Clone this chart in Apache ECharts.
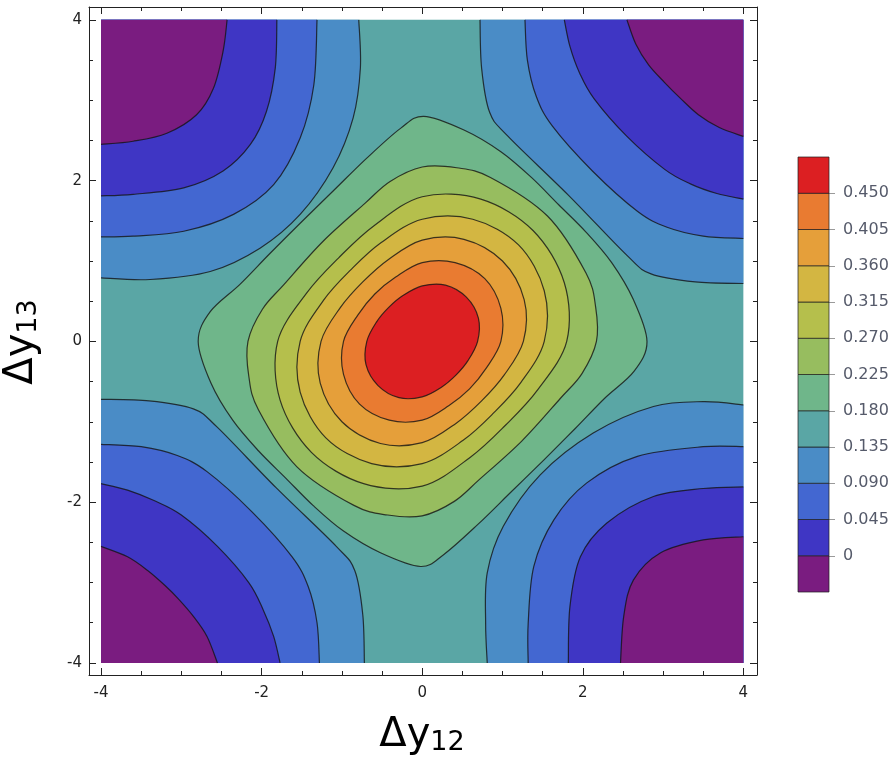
<!DOCTYPE html>
<html>
<head>
<meta charset="utf-8">
<script src="https://cdn.jsdelivr.net/npm/echarts@6/dist/echarts.min.js"></script>
<style>
  html, body { margin: 0; padding: 0; background: #ffffff; }
  #chart { width: 893px; height: 766px; }
</style>
</head>
<body>
<div id="chart"></div>
<script>
// Contour levels (band boundaries) and the fill colour of each band, lowest band first
const levels = [0, 0.045, 0.09, 0.135, 0.18, 0.225, 0.27, 0.315, 0.36, 0.405, 0.45];
const levelLabels = ['0', '0.045', '0.090', '0.135', '0.180', '0.225', '0.270', '0.315', '0.360', '0.405', '0.450'];
const bandColors = ['#7a1c80', '#3f36c4', '#4367d1', '#4a8cc6', '#5aa6a5', '#6fb68a',
                    '#97bd5f', '#b5bf4c', '#d3b642', '#e59f3a', '#e97b31', '#dc1f22'];

// Axis ticks
const majorTicks = [-4, -2, 0, 2, 4];
const minorTicks = [-3.5, -3, -2.5, -1.5, -1, -0.5, 0.5, 1, 1.5, 2.5, 3, 3.5];
const plotMin = -4, plotMax = 4;

// Corner contours, (Δy12, Δy13) points running from one plot edge to the other
// top-left corner
const tl135 = [[-0.79, 4], [-0.77, 3.40], [-0.86, 2.78], [-1.11, 2.16], [-1.52, 1.58], [-2.02, 1.16], [-2.64, 0.87], [-3.39, 0.77], [-4, 0.79]];
const tl090 = [[-1.31, 4], [-1.35, 3.19], [-1.52, 2.53], [-1.85, 1.95], [-2.35, 1.58], [-2.97, 1.37], [-3.60, 1.31], [-4, 1.30]];
const tl045 = [[-1.81, 4], [-1.83, 3.40], [-1.94, 2.86], [-2.14, 2.45], [-2.48, 2.12], [-2.97, 1.91], [-3.60, 1.83], [-4, 1.81]];
const tl000 = [[-2.43, 4], [-2.48, 3.61], [-2.60, 3.15], [-2.81, 2.82], [-3.18, 2.59], [-3.60, 2.49], [-4, 2.45]];
// bottom-right corner
const br135 = [[4, -0.79], [3.50, -0.75], [2.88, -0.81], [2.13, -1.14], [1.47, -1.66], [1.01, -2.30], [0.81, -2.88], [0.79, -3.51], [0.81, -4]];
const br090 = [[4, -1.31], [3.50, -1.31], [2.68, -1.43], [2.05, -1.76], [1.64, -2.22], [1.39, -2.80], [1.32, -3.51], [1.32, -4]];
const br045 = [[4, -1.81], [3.50, -1.83], [2.88, -1.93], [2.30, -2.26], [1.97, -2.68], [1.84, -3.30], [1.82, -4]];
const br000 = [[4, -2.43], [3.50, -2.47], [2.97, -2.63], [2.63, -2.97], [2.51, -3.42], [2.47, -4]];
// top-right corner
const tr135 = [[0.72, 4], [0.74, 3.40], [0.84, 2.85], [1.07, 2.55], [1.82, 1.82], [2.55, 1.07], [2.85, 0.84], [3.40, 0.74], [4, 0.72]];
const tr090 = [[1.28, 4], [1.31, 3.50], [1.42, 3.05], [1.62, 2.68], [2.12, 2.12], [2.68, 1.62], [3.05, 1.42], [3.50, 1.31], [4, 1.28]];
const tr045 = [[1.77, 4], [1.84, 3.67], [1.96, 3.34], [2.14, 3.02], [2.55, 2.55], [3.02, 2.14], [3.34, 1.96], [3.67, 1.84], [4, 1.77]];
const tr000 = [[2.55, 4], [2.66, 3.70], [2.82, 3.44], [3.02, 3.22], [3.22, 3.02], [3.44, 2.82], [3.70, 2.66], [4, 2.55]];
// bottom-left corner
const bl135 = [[-0.72, -4], [-0.74, -3.40], [-0.84, -2.85], [-1.07, -2.55], [-1.82, -1.82], [-2.55, -1.07], [-2.85, -0.84], [-3.40, -0.74], [-4, -0.72]];
const bl090 = [[-1.28, -4], [-1.31, -3.50], [-1.42, -3.05], [-1.62, -2.68], [-2.12, -2.12], [-2.68, -1.62], [-3.05, -1.42], [-3.50, -1.31], [-4, -1.28]];
const bl045 = [[-1.77, -4], [-1.85, -3.67], [-1.98, -3.34], [-2.16, -3.00], [-2.55, -2.55], [-3.00, -2.16], [-3.34, -1.98], [-3.67, -1.85], [-4, -1.77]];
const bl000 = [[-2.55, -4], [-2.68, -3.67], [-2.85, -3.42], [-3.04, -3.20], [-3.20, -3.04], [-3.42, -2.85], [-3.67, -2.68], [-4, -2.55]];

// Closed contours round the central peak
const c180 = [[2.80, 0], [2.63, 0.52], [2.36, 0.98], [2.04, 1.36], [1.70, 1.70], [1.36, 2.04], [0.98, 2.36], [0.52, 2.63],
              [0.02, 2.80], [-0.27, 2.65], [-0.69, 2.28], [-1.10, 1.88], [-1.52, 1.47], [-1.90, 1.09], [-2.27, 0.71], [-2.64, 0.37],
              [-2.79, 0], [-2.63, -0.52], [-2.36, -0.98], [-2.04, -1.36], [-1.70, -1.70], [-1.36, -2.04], [-0.98, -2.36], [-0.52, -2.63],
              [-0.02, -2.80], [0.27, -2.65], [0.69, -2.28], [1.10, -1.88], [1.52, -1.47], [1.90, -1.09], [2.27, -0.71], [2.64, -0.37]];
const c225 = [[2.17, 0], [2.16, 0.43], [2.04, 0.85], [1.56, 1.56], [0.85, 2.04], [0.43, 2.16], [0, 2.17], [-0.40, 1.99],
              [-0.71, 1.72], [-1.24, 1.24], [-1.72, 0.71], [-1.99, 0.40], [-2.17, 0], [-2.16, -0.43], [-2.04, -0.85], [-1.56, -1.56],
              [-0.85, -2.04], [-0.43, -2.16], [0, -2.17], [0.40, -1.99], [0.71, -1.72], [1.24, -1.24], [1.72, -0.71], [1.99, -0.40]];
const c270 = [[1.80, 0], [1.77, 0.73], [1.38, 1.38], [0.73, 1.77], [0, 1.80], [-0.60, 1.44], [-1.04, 1.04], [-1.44, 0.60],
              [-1.80, 0], [-1.77, -0.73], [-1.38, -1.38], [-0.73, -1.77], [0, -1.80], [0.60, -1.44], [1.04, -1.04], [1.44, -0.60]];
const c315 = [[1.52, 0], [1.52, 0.63], [1.20, 1.20], [0.63, 1.52], [0, 1.52], [-0.51, 1.23], [-0.89, 0.89], [-1.23, 0.51],
              [-1.52, 0], [-1.52, -0.63], [-1.20, -1.20], [-0.63, -1.52], [0, -1.52], [0.51, -1.23], [0.89, -0.89], [1.23, -0.51]];
const c360 = [[1.26, 0], [1.27, 0.52], [1.00, 1.00], [0.52, 1.27], [0, 1.26], [-0.42, 1.02], [-0.74, 0.74], [-1.02, 0.42],
              [-1.26, 0], [-1.27, -0.52], [-1.00, -1.00], [-0.52, -1.27], [0, -1.26], [0.42, -1.02], [0.74, -0.74], [1.02, -0.42]];
const c405 = [[0.98, 0], [0.98, 0.41], [0.78, 0.78], [0.41, 0.98], [0, 0.98], [-0.33, 0.80], [-0.59, 0.59], [-0.80, 0.33],
              [-0.98, 0], [-0.98, -0.41], [-0.78, -0.78], [-0.41, -0.98], [0, -0.98], [0.33, -0.80], [0.59, -0.59], [0.80, -0.33]];
const c450 = [[0.69, 0], [0.70, 0.29], [0.55, 0.55], [0.29, 0.70], [0, 0.69], [-0.24, 0.57], [-0.42, 0.42], [-0.57, 0.24],
              [-0.69, 0], [-0.70, -0.29], [-0.55, -0.55], [-0.29, -0.70], [0, -0.69], [0.24, -0.57], [0.42, -0.42], [0.57, -0.24]];

// Filled regions in painting order. A corner region is bounded by its curve and the plot corner;
// "band" is the index into bandColors.
const TL = [plotMin, plotMax], TR = [plotMax, plotMax], BL = [plotMin, plotMin], BR = [plotMax, plotMin];
const regions = [
  { pts: tl135, corner: TL, band: 3 }, { pts: tr135, corner: TR, band: 3 },
  { pts: bl135, corner: BL, band: 3 }, { pts: br135, corner: BR, band: 3 },
  { pts: tl090, corner: TL, band: 2 }, { pts: tr090, corner: TR, band: 2 },
  { pts: bl090, corner: BL, band: 2 }, { pts: br090, corner: BR, band: 2 },
  { pts: tl045, corner: TL, band: 1 }, { pts: tr045, corner: TR, band: 1 },
  { pts: bl045, corner: BL, band: 1 }, { pts: br045, corner: BR, band: 1 },
  { pts: tl000, corner: TL, band: 0 }, { pts: tr000, corner: TR, band: 0 },
  { pts: bl000, corner: BL, band: 0 }, { pts: br000, corner: BR, band: 0 },
  { pts: c180, corner: null, band: 5 }, { pts: c225, corner: null, band: 6 },
  { pts: c270, corner: null, band: 7 }, { pts: c315, corner: null, band: 8 },
  { pts: c360, corner: null, band: 9 }, { pts: c405, corner: null, band: 10 },
  { pts: c450, corner: null, band: 11 }
];

const lineColor = 'rgba(20, 20, 20, 0.8)';
const fontFamily = '"DejaVu Sans", "Liberation Sans", sans-serif';

// Catmull-Rom spline through pixel points, as SVG path data
function smoothPath(p, closed) {
  const n = p.length;
  const at = i => closed ? p[(i + n) % n] : p[Math.max(0, Math.min(n - 1, i))];
  const f = v => v.toFixed(2);
  let d = 'M' + f(p[0][0]) + ' ' + f(p[0][1]);
  const segs = closed ? n : n - 1;
  for (let i = 0; i < segs; i++) {
    const p0 = at(i - 1), p1 = at(i), p2 = at(i + 1), p3 = at(i + 2);
    const c1x = p1[0] + (p2[0] - p0[0]) / 6, c1y = p1[1] + (p2[1] - p0[1]) / 6;
    const c2x = p2[0] - (p3[0] - p1[0]) / 6, c2y = p2[1] - (p3[1] - p1[1]) / 6;
    d += ' C' + f(c1x) + ' ' + f(c1y) + ' ' + f(c2x) + ' ' + f(c2y) + ' ' + f(p2[0]) + ' ' + f(p2[1]);
  }
  return closed ? d + ' Z' : d;
}

function renderContours(params, api) {
  const idx = api.value(2);
  if (idx < 0) {
    // base band covering the whole plotted domain
    const a = api.coord([plotMin, plotMax]);
    const b = api.coord([plotMax, plotMin]);
    return {
      type: 'rect',
      shape: { x: a[0], y: a[1], width: b[0] - a[0], height: b[1] - a[1] },
      style: { fill: bandColors[4] }
    };
  }
  const r = regions[idx];
  const px = r.pts.map(p => api.coord(p));
  const closed = !r.corner;
  const curve = smoothPath(px, closed);
  let area = curve;
  if (!closed) {
    const c = api.coord(r.corner);
    area = curve + ' L' + c[0].toFixed(2) + ' ' + c[1].toFixed(2) + ' Z';
  }
  return {
    type: 'group',
    children: [
      { type: 'path', shape: { pathData: area }, style: { fill: bandColors[r.band], stroke: null } },
      { type: 'path', shape: { pathData: curve }, style: { fill: null, stroke: lineColor, lineWidth: 1.2 } }
    ]
  };
}

function renderColorBar(params, api) {
  const i = api.value(2);
  const a = api.coord([0, i + 1]);
  const b = api.coord([1, i]);
  return {
    type: 'rect',
    shape: { x: a[0], y: a[1], width: b[0] - a[0], height: b[1] - a[1] },
    style: { fill: bandColors[i], stroke: 'rgba(30, 30, 30, 0.7)', lineWidth: 1 }
  };
}

const xRange = { min: -4.15, max: 4.17 };
const yRange = { min: -4.15, max: 4.16 };

function frameAxis(position, range, ticks, len, withLabels, showLine) {
  return Object.assign({
    type: 'value',
    gridIndex: 0,
    position: position,
    axisLine: { show: showLine, onZero: false, lineStyle: { color: '#222', width: 1 } },
    axisTick: { show: true, inside: true, length: len, customValues: ticks, lineStyle: { color: '#222', width: 1 } },
    axisLabel: withLabels ? {
      show: true, customValues: ticks, color: '#222', fontSize: 15, fontFamily: fontFamily,
      margin: position === 'bottom' ? 11 : 7
    } : { show: false },
    splitLine: { show: false }
  }, range);
}

const subRich = {
  a: { fontSize: 40, lineHeight: 40, fontFamily: fontFamily, color: '#2b2b2b', verticalAlign: 'top' },
  b: { fontSize: 27, lineHeight: 27, fontFamily: fontFamily, color: '#2b2b2b', verticalAlign: 'bottom', padding: [23, 0, 0, 0] }
};

const chart = echarts.init(document.getElementById('chart'), null, { renderer: 'canvas' });
chart.setOption({
  animation: false,
  backgroundColor: '#ffffff',
  grid: [
    { left: 89, right: 136, top: 7, bottom: 91 },
    { left: 798, top: 157, width: 31, height: 435 }
  ],
  xAxis: [
    frameAxis('bottom', xRange, majorTicks, 7, true, true),
    frameAxis('bottom', xRange, minorTicks, 4, false, false),
    frameAxis('top', xRange, majorTicks, 7, false, true),
    frameAxis('top', xRange, minorTicks, 4, false, false),
    { type: 'value', gridIndex: 1, min: 0, max: 1, show: false }
  ],
  yAxis: [
    frameAxis('left', yRange, majorTicks, 7, true, true),
    frameAxis('left', yRange, minorTicks, 4, false, false),
    frameAxis('right', yRange, majorTicks, 7, false, true),
    frameAxis('right', yRange, minorTicks, 4, false, false),
    {
      type: 'value', gridIndex: 1, min: 0, max: 12, position: 'right',
      axisLine: { show: false, onZero: false },
      axisTick: { show: true, inside: false, length: 6, customValues: [1, 2, 3, 4, 5, 6, 7, 8, 9, 10, 11],
                  lineStyle: { color: '#9a9a9a', width: 1 } },
      axisLabel: { show: true, customValues: [1, 2, 3, 4, 5, 6, 7, 8, 9, 10, 11],
                   formatter: v => levelLabels[Math.round(v) - 1],
                   color: '#555a6a', fontSize: 16, fontFamily: fontFamily, margin: 14 },
      splitLine: { show: false }
    }
  ],
  series: [
    {
      type: 'custom',
      coordinateSystem: 'cartesian2d',
      xAxisIndex: 0, yAxisIndex: 0,
      silent: true,
      renderItem: renderContours,
      data: [[0, 0, -1]].concat(regions.map((r, i) => [0, 0, i]))
    },
    {
      type: 'custom',
      coordinateSystem: 'cartesian2d',
      xAxisIndex: 4, yAxisIndex: 4,
      silent: true,
      renderItem: renderColorBar,
      data: bandColors.map((c, i) => [0.5, i + 0.5, i])
    }
  ],
  graphic: [
    {
      type: 'text', x: 422, y: 736,
      style: { text: '{a|Δy}{b|12}', rich: subRich, align: 'center', verticalAlign: 'middle' }
    },
    {
      type: 'text', x: 22, y: 342, rotation: Math.PI / 2,
      style: { text: '{a|Δy}{b|13}', rich: subRich, align: 'center', verticalAlign: 'middle' }
    }
  ]
});
</script>
</body>
</html>
